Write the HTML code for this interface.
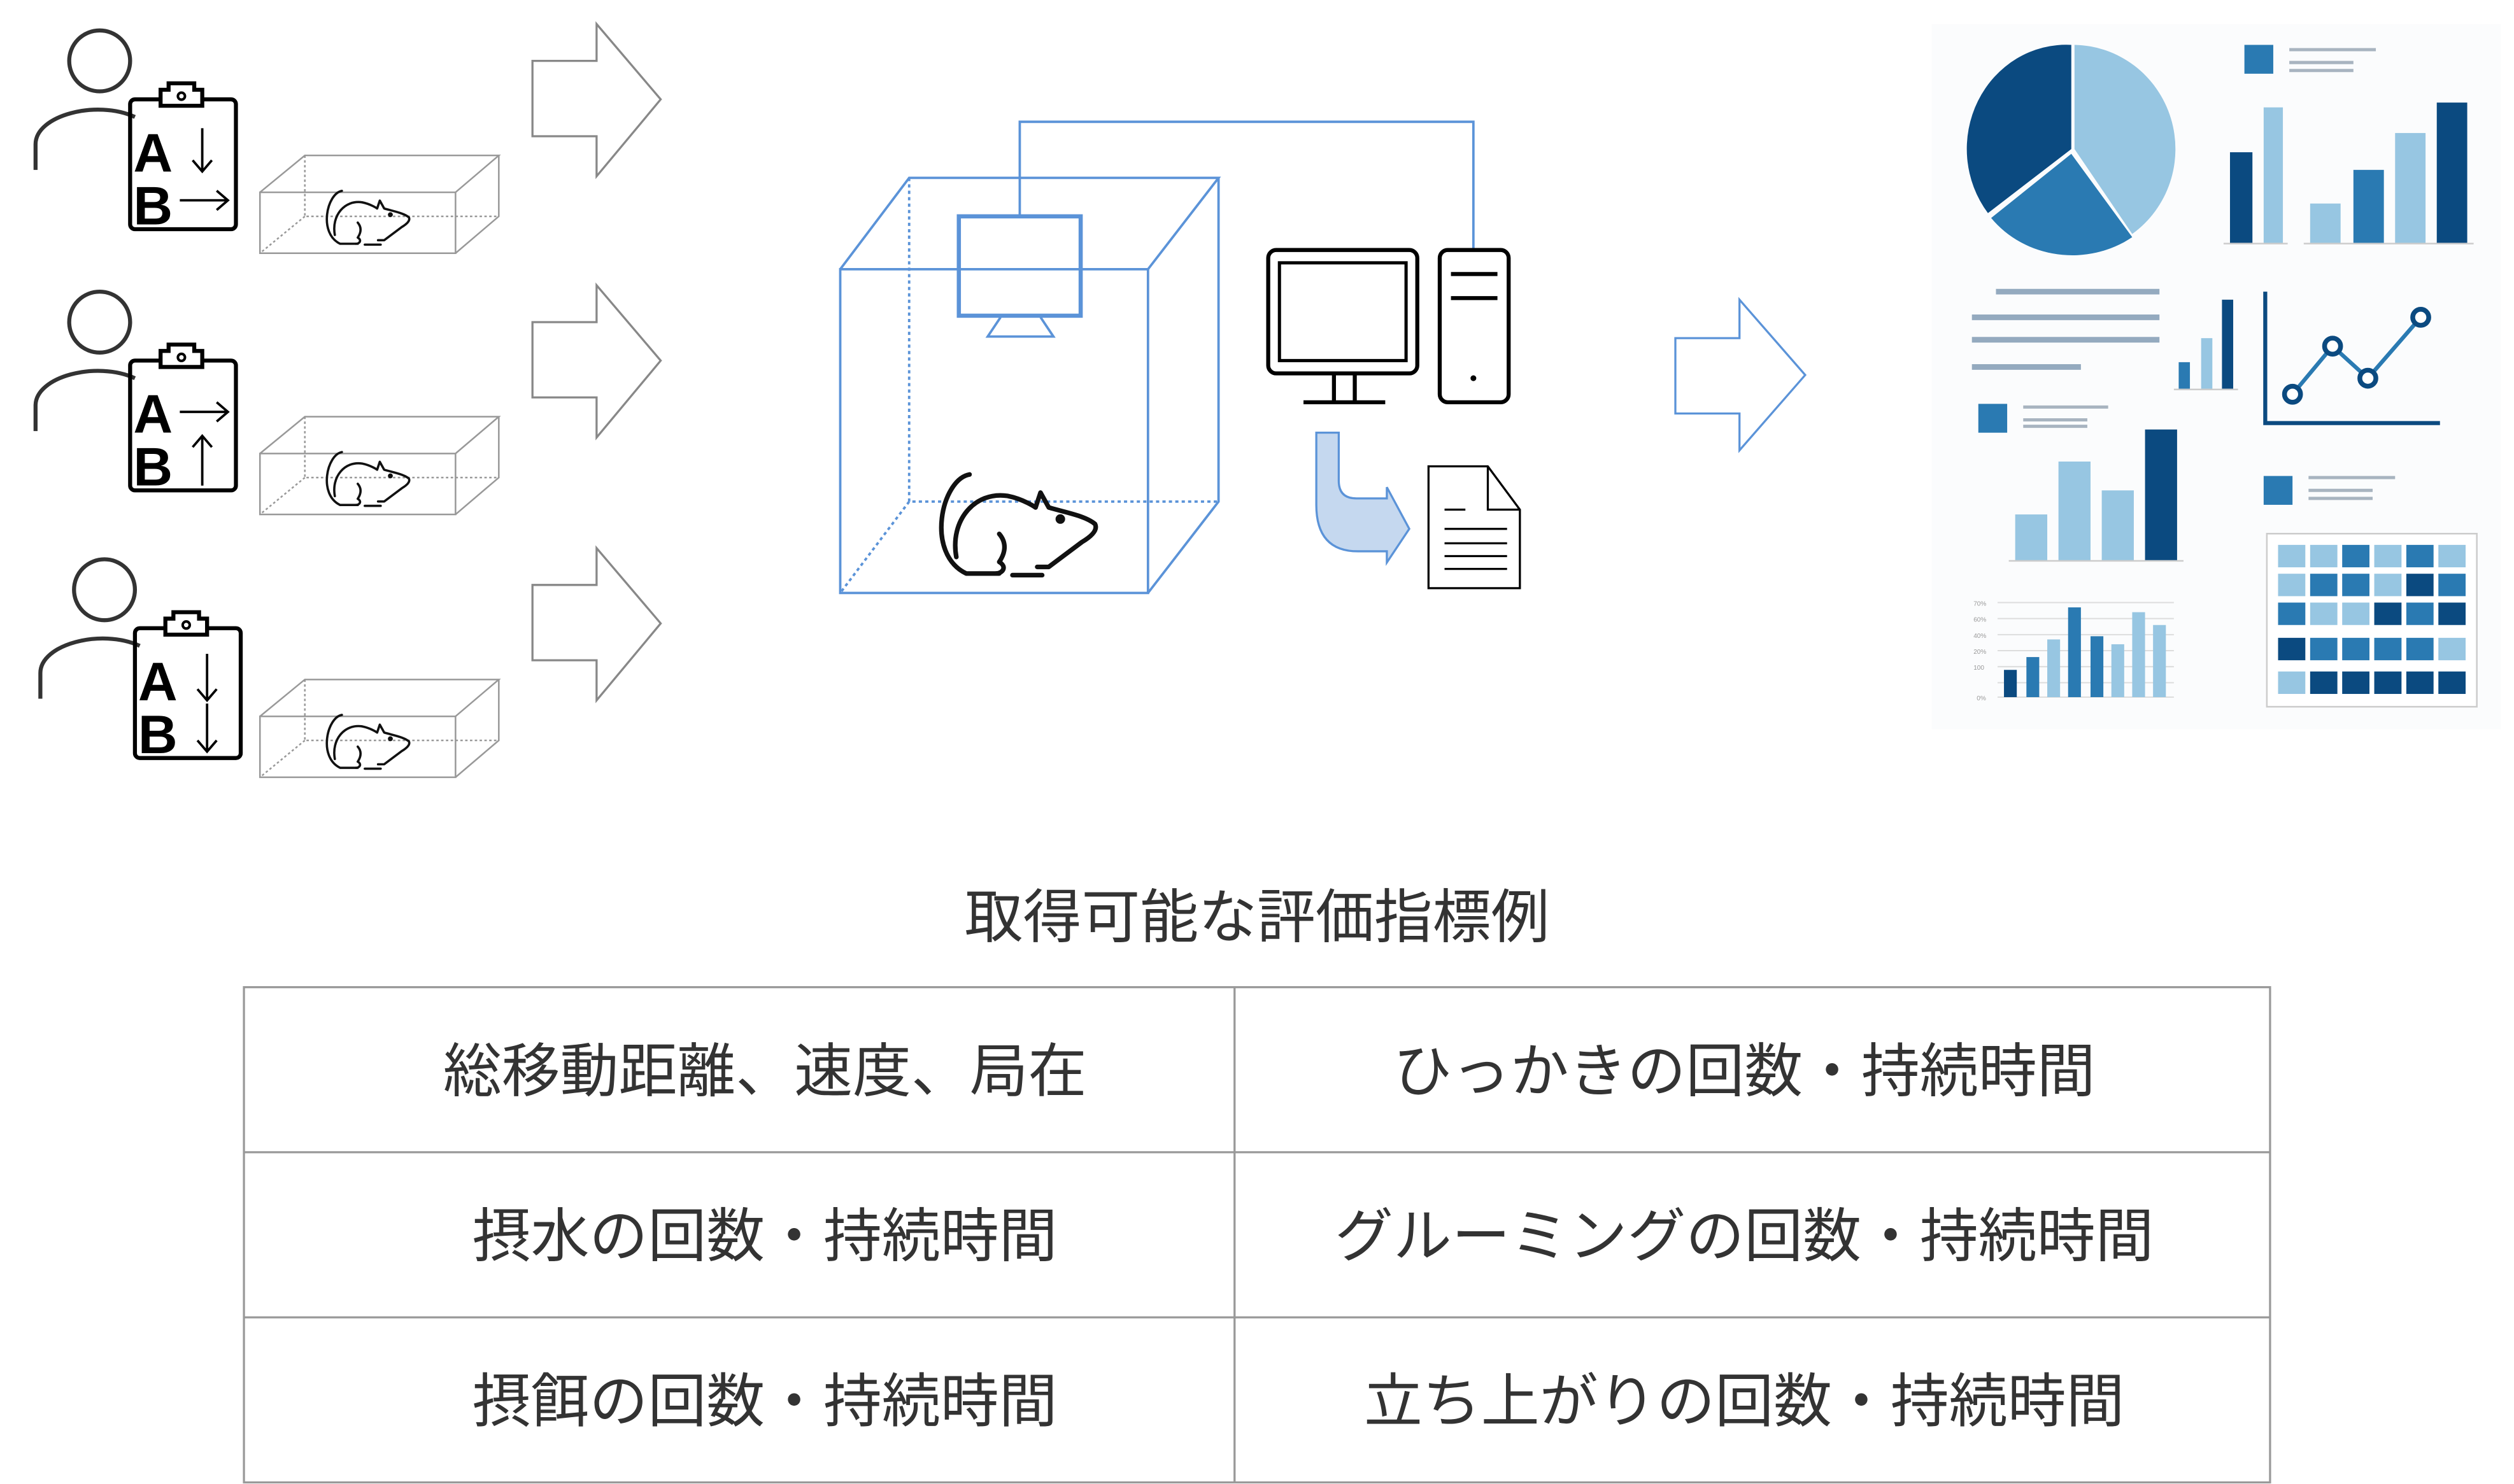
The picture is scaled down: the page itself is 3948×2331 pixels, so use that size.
<!DOCTYPE html>
<html><head><meta charset="utf-8"><style>
html,body{margin:0;padding:0;background:#fff;}
svg{display:block}
text{font-family:"Liberation Sans","Noto Sans CJK JP",sans-serif;}
</style></head><body>
<svg width="3948" height="2331" viewBox="0 0 1568 926" xmlns="http://www.w3.org/2000/svg">
<defs>
<g id="rat" fill="none" stroke-linecap="round" stroke-linejoin="round">
  <path d="M22,2 C5,5 -5,50 20,62 L40,62"/>
  <path d="M14,52 C10,30 25,12 45,15 C55,17 62,22 62,22 L65,13 L70,22 C80,25 92,27 98,32 C100,36 95,40 90,43 L70,58 L63,58"/>
  <path d="M40,38 C46,45 42,52 40,55 C45,58 42,62 38,62"/>
  <path d="M48,63 L66,63"/>
  <circle cx="77" cy="29" r="1.5" fill="currentColor"/>
</g>
<g id="person">
  <circle cx="62" cy="38" r="19" fill="none" stroke="#333" stroke-width="2.5"/>
  <path d="M22,106 L22,90 C22,72 60,62 84,73" fill="none" stroke="#333" stroke-width="2.5"/>
  <rect x="81" y="62" width="66" height="81" rx="3" fill="none" stroke="#000" stroke-width="2.5"/>
  <path d="M100,66 L100,56 L105,56 L105,52 L121,52 L121,56 L126,56 L126,66 Z" fill="#fff" stroke="#000" stroke-width="2.5"/>
  <circle cx="113" cy="60" r="2.2" fill="none" stroke="#000" stroke-width="1.6"/>
  <text x="83" y="107" font-size="34" font-weight="bold" fill="#000">A</text>
  <text x="83" y="140" font-size="34" font-weight="bold" fill="#000">B</text>
</g>
<g id="box" fill="none" stroke="#999" stroke-width="1">
  <rect x="162" y="120" width="122" height="38"/>
  <path d="M162,120 L190,97 L311,97 L284,120 M311,97 L311,135 L284,158"/>
  <path d="M190,97 L190,135 L311,135 M190,135 L162,158" stroke-dasharray="1.5,1.5"/>
  <use href="#rat" transform="translate(201,118) scale(0.55)" stroke="#111" stroke-width="2.6" color="#111"/>
</g>
<path id="garrow" d="M332,38 L372,38 L372,15 L412,62 L372,110 L372,85 L332,85 Z" fill="#fff" stroke="#888" stroke-width="1.3"/>
</defs>

<g>
  <use href="#person"/>
  <use href="#box"/>
  <use href="#garrow"/>
  <g stroke="#000" stroke-width="1.5" fill="none">
    <path d="M126,80 L126,107 M120,100 L126,107 L132,100"/>
    <path d="M112,125 L142,125 M135,119 L142,125 L135,131"/>
  </g>
</g>
<g transform="translate(0,163)">
  <use href="#person"/>
  <use href="#box"/>
  <use href="#garrow"/>
  <g stroke="#000" stroke-width="1.5" fill="none">
    <path d="M112,94 L142,94 M135,88 L142,94 L135,100"/>
    <path d="M126,140 L126,109 M120,116 L126,109 L132,116"/>
  </g>
</g>
<g transform="translate(0,327)">
  <g transform="translate(3,3)"><use href="#person"/></g>
  <use href="#box"/>
  <use href="#garrow"/>
  <g stroke="#000" stroke-width="1.5" fill="none">
    <path d="M129,81 L129,110 M123,103 L129,110 L135,103"/>
    <path d="M129,112 L129,142 M123,135 L129,142 L135,135"/>
  </g>
</g>

<g fill="none" stroke="#5b93d8" stroke-width="1.5">
  <path d="M636,134 L636,76 L919,76 L919,155"/>
  <rect x="524" y="168" width="192" height="202"/>
  <path d="M524,168 L567,111 L760,111 L716,168 M760,111 L760,313 L716,370"/>
  <path d="M567,111 L567,313 L760,313 M567,313 L524,370" stroke-dasharray="2,2"/>
  <rect x="598" y="135" width="76" height="62" stroke-width="2.6"/>
  <path d="M624,198 L616,210 L657,210 L649,198"/>
</g>
<use href="#rat" transform="translate(582,294) scale(1.03)" stroke="#111" stroke-width="2.8" color="#111"/>

<g fill="none" stroke="#000" stroke-width="2.5">
  <rect x="791" y="156" width="93" height="77" rx="5"/>
  <rect x="798" y="164" width="79" height="61" stroke-width="2"/>
  <path d="M832,233 L832,251 M845,233 L845,251 M813,251 L864,251"/>
  <rect x="898" y="156" width="43" height="95" rx="5"/>
  <path d="M905,171 L934,171 M905,186 L934,186"/>
</g>
<circle cx="919" cy="236" r="1.8" fill="#000"/>
<path d="M821,270 L835,270 L835,300 Q835,311 846,311 L865,311 L865,304 L879,330 L865,351 L865,344 L847,344 Q821,344 821,315 Z" fill="#c5d8ef" stroke="#5b93d8" stroke-width="1.3"/>
<g fill="none" stroke="#000" stroke-width="1.3">
  <path d="M891,291 L928,291 L948,318 L948,367 L891,367 Z M928,291 L928,318 L948,318"/>
  <path d="M901,318 L914,318 M901,330 L940,330 M901,339 L940,339 M901,347 L940,347 M901,355 L940,355"/>
</g>

<path d="M1045,211 L1085,211 L1085,187 L1126,234 L1085,281 L1085,258 L1045,258 Z" fill="#fff" stroke="#5b93d8" stroke-width="1.3"/>

<rect x="1205" y="15" width="355" height="440" fill="#fbfcfd"/>
<g>
  <path d="M1292,93 L1292,28 A62,65 0 0 0 1240,133 Z" fill="#0b4a80"/>
  <path d="M1294,93 L1294,28 A64,65 0 0 1 1330,146 Z" fill="#97c6e2"/>
  <path d="M1292,96 L1242,136 A64,60 0 0 0 1330,148 Z" fill="#2a7ab2"/>
</g>
<g fill="#2a7ab2">
  <rect x="1400" y="28" width="18" height="18"/>
  <rect x="1234" y="252" width="18" height="18"/>
  <rect x="1412" y="297" width="18" height="18"/>
</g>
<g stroke="#a8b4c0" stroke-width="2">
  <path d="M1428,31 L1482,31 M1428,39 L1468,39 M1428,44 L1468,44"/>
  <path d="M1262,254 L1315,254 M1262,262 L1302,262 M1262,266 L1302,266"/>
  <path d="M1440,298 L1494,298 M1440,306 L1480,306 M1440,311 L1480,311"/>
</g>
<g stroke="#94aabf" stroke-width="3.5">
  <path d="M1245,182 L1347,182 M1230,198 L1347,198 M1230,212 L1347,212 M1230,229 L1298,229"/>
</g>
<g>
  <rect x="1391" y="95" width="14" height="57" fill="#0b4a80"/>
  <rect x="1412" y="67" width="12" height="85" fill="#97c6e2"/>
  <rect x="1441" y="127" width="19" height="25" fill="#97c6e2"/>
  <rect x="1468" y="106" width="19" height="46" fill="#2a7ab2"/>
  <rect x="1494" y="83" width="19" height="69" fill="#97c6e2"/>
  <rect x="1520" y="64" width="19" height="88" fill="#0b4a80"/>
  <path d="M1387,152 L1427,152 M1437,152 L1543,152" stroke="#ccc" stroke-width="1"/>
  <rect x="1359" y="226" width="7" height="17" fill="#2a7ab2"/>
  <rect x="1373" y="211" width="7" height="32" fill="#97c6e2"/>
  <rect x="1386" y="187" width="7" height="56" fill="#0b4a80"/>
  <path d="M1356,243 L1396,243" stroke="#ccc" stroke-width="1"/>
  <rect x="1257" y="321" width="20" height="29" fill="#97c6e2"/>
  <rect x="1284" y="288" width="20" height="62" fill="#97c6e2"/>
  <rect x="1311" y="306" width="20" height="44" fill="#97c6e2"/>
  <rect x="1338" y="268" width="20" height="82" fill="#0b4a80"/>
  <path d="M1253,350 L1362,350" stroke="#ccc" stroke-width="1"/>
</g>
<g fill="none" stroke="#0b4a80">
  <path d="M1413,182 L1413,264 L1522,264" stroke-width="2.5"/>
  <path d="M1430,246 L1455,216 L1477,236 L1510,198" stroke="#2a7ab2" stroke-width="2.5"/>
  <g fill="#fff" stroke-width="3"><circle cx="1430" cy="246" r="5"/><circle cx="1455" cy="216" r="5"/><circle cx="1477" cy="236" r="5"/><circle cx="1510" cy="198" r="5"/></g>
</g>
<g stroke="#ddd" stroke-width="0.8">
  <path d="M1246,376 L1356,376 M1246,386 L1356,386 M1246,396 L1356,396 M1246,406 L1356,406 M1246,416 L1356,416 M1246,426 L1356,426 M1246,435 L1356,435"/>
</g>
<g font-size="4" fill="#999"><text x="1231" y="378">70%</text><text x="1231" y="388">60%</text><text x="1231" y="398">40%</text><text x="1231" y="408">20%</text><text x="1231" y="418">100</text><text x="1233" y="437">0%</text></g>
<g>
  <rect x="1250" y="418" width="8" height="17" fill="#0b4a80"/>
  <rect x="1264" y="410" width="8" height="25" fill="#2a7ab2"/>
  <rect x="1277" y="399" width="8" height="36" fill="#97c6e2"/>
  <rect x="1290" y="379" width="8" height="56" fill="#2a7ab2"/>
  <rect x="1304" y="397" width="8" height="38" fill="#2a7ab2"/>
  <rect x="1317" y="402" width="8" height="33" fill="#97c6e2"/>
  <rect x="1330" y="382" width="8" height="53" fill="#97c6e2"/>
  <rect x="1343" y="390" width="8" height="45" fill="#97c6e2"/>
</g>
<rect x="1414" y="333" width="131" height="108" fill="#fff" stroke="#ccc" stroke-width="1"/>
<g>
  <rect x="1421" y="340" width="17" height="14" fill="#97c6e2"/><rect x="1441" y="340" width="17" height="14" fill="#97c6e2"/><rect x="1461" y="340" width="17" height="14" fill="#2a7ab2"/><rect x="1481" y="340" width="17" height="14" fill="#97c6e2"/><rect x="1501" y="340" width="17" height="14" fill="#2a7ab2"/><rect x="1521" y="340" width="17" height="14" fill="#97c6e2"/>
  <rect x="1421" y="358" width="17" height="14" fill="#97c6e2"/><rect x="1441" y="358" width="17" height="14" fill="#2a7ab2"/><rect x="1461" y="358" width="17" height="14" fill="#2a7ab2"/><rect x="1481" y="358" width="17" height="14" fill="#97c6e2"/><rect x="1501" y="358" width="17" height="14" fill="#0b4a80"/><rect x="1521" y="358" width="17" height="14" fill="#2a7ab2"/>
  <rect x="1421" y="376" width="17" height="14" fill="#2a7ab2"/><rect x="1441" y="376" width="17" height="14" fill="#97c6e2"/><rect x="1461" y="376" width="17" height="14" fill="#97c6e2"/><rect x="1481" y="376" width="17" height="14" fill="#0b4a80"/><rect x="1501" y="376" width="17" height="14" fill="#2a7ab2"/><rect x="1521" y="376" width="17" height="14" fill="#0b4a80"/>
  <rect x="1421" y="398" width="17" height="14" fill="#0b4a80"/><rect x="1441" y="398" width="17" height="14" fill="#2a7ab2"/><rect x="1461" y="398" width="17" height="14" fill="#2a7ab2"/><rect x="1481" y="398" width="17" height="14" fill="#2a7ab2"/><rect x="1501" y="398" width="17" height="14" fill="#2a7ab2"/><rect x="1521" y="398" width="17" height="14" fill="#97c6e2"/>
  <rect x="1421" y="419" width="17" height="14" fill="#97c6e2"/><rect x="1441" y="419" width="17" height="14" fill="#0b4a80"/><rect x="1461" y="419" width="17" height="14" fill="#0b4a80"/><rect x="1481" y="419" width="17" height="14" fill="#0b4a80"/><rect x="1501" y="419" width="17" height="14" fill="#0b4a80"/><rect x="1521" y="419" width="17" height="14" fill="#0b4a80"/>
</g>

<text x="784" y="585" font-size="36.5" fill="#333" text-anchor="middle">取得可能な評価指標例</text>
<g fill="none" stroke="#999" stroke-width="1.3">
  <rect x="152" y="616" width="1264" height="309"/>
  <path d="M770,616 L770,925 M152,719 L1416,719 M152,822 L1416,822"/>
</g>
<g font-size="36.5" fill="#333" text-anchor="middle">
  <text x="477" y="681">総移動距離、速度、局在</text>
  <text x="1088" y="681">ひっかきの回数・持続時間</text>
  <text x="477" y="784">摂水の回数・持続時間</text>
  <text x="1088" y="784">グルーミングの回数・持続時間</text>
  <text x="477" y="887">摂餌の回数・持続時間</text>
  <text x="1088" y="887">立ち上がりの回数・持続時間</text>
</g>
</svg>
</body></html>
